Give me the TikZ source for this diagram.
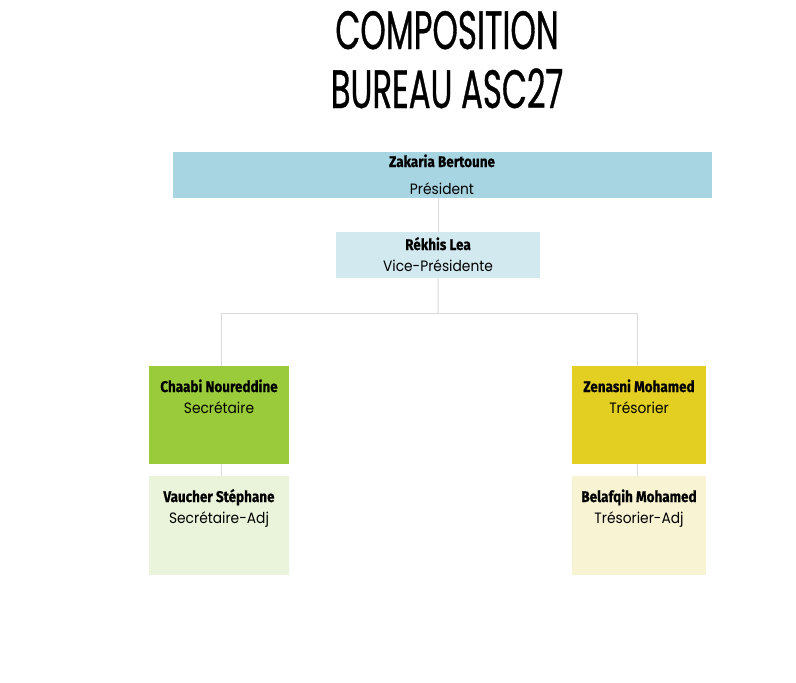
\documentclass[tikz,border=0pt]{standalone}
\usepackage{fontspec}
\setmainfont{Poppins}
\newfontfamily\titlefont[FakeStretch=0.6,FakeBold=0.6]{Poppins}
\newfontfamily\namefont[FakeStretch=0.87,FakeBold=0.6]{Fira Sans}
\newfontfamily\rolefont[FakeStretch=0.92]{Poppins}
\definecolor{presblue}{HTML}{A8D5E2}
\definecolor{vpblue}{HTML}{D2E9F0}
\definecolor{secgreen}{HTML}{9ACB3A}
\definecolor{secgreenlt}{HTML}{EAF4DA}
\definecolor{tresyel}{HTML}{E3CF22}
\definecolor{tresyellt}{HTML}{F8F3D3}
\definecolor{linegray}{HTML}{D9D9D9}
\tikzset{
  box/.style={draw=none, rectangle, inner sep=0pt, anchor=north west},
  conn/.style={draw=linegray, line width=1pt},
  nametext/.style={font=\namefont\bfseries\fontsize{15.5}{17}\selectfont, inner sep=0pt, anchor=base},
  roletext/.style={font=\rolefont\fontsize{15}{17}\selectfont, inner sep=0pt, anchor=base},
  titletext/.style={font=\titlefont\fontsize{54}{60}\selectfont, inner sep=0pt, anchor=base}
}
\begin{document}
\begin{tikzpicture}[x=1pt,y=-1pt]
\useasboundingbox (0,0) rectangle (796,683);
% title
\node[titletext] (t1) at (447,49) {COMPOSITION};
\node[titletext] (t2) at (447,108) {BUREAU ASC27};
% boxes
\node[box, fill=presblue, minimum width=539pt, minimum height=46pt] (pres) at (173,152) {};
\node[box, fill=vpblue, minimum width=204pt, minimum height=46pt] (vp) at (336,232) {};
\node[box, fill=secgreen, minimum width=140pt, minimum height=98pt] (sec) at (149,366) {};
\node[box, fill=tresyel, minimum width=134pt, minimum height=98pt] (tres) at (572,366) {};
\node[box, fill=secgreenlt, minimum width=140pt, minimum height=99pt] (secadj) at (149,476) {};
\node[box, fill=tresyellt, minimum width=134pt, minimum height=99pt] (tresadj) at (572,476) {};
% connectors
\coordinate (junc) at (438,313);
\draw[conn] (vp.north) -- (vp.north |- pres.south);
\draw[conn] (vp.south) -- (junc);
\draw[conn] (junc) -| ([xshift=2pt]sec.north);
\draw[conn] (junc) -| ([xshift=-2pt]tres.north);
\draw[conn] ([xshift=2pt]sec.south) -- ([xshift=2pt]secadj.north);
\draw[conn] ([xshift=-2pt]tres.south) -- ([xshift=-2pt]tresadj.north);
% texts
\node[nametext] (n1) at (442,167) {Zakaria Bertoune};
\node[roletext] (r1) at (442,194) {Président};
\node[nametext] (n2) at (438,250) {Rékhis Lea};
\node[roletext] (r2) at (438,271) {Vice-Présidente};
\node[nametext] (n3) at (219,392) {Chaabi Noureddine};
\node[roletext] (r3) at (219,413) {Secrétaire};
\node[nametext] (n4) at (639,392) {Zenasni Mohamed};
\node[roletext] (r4) at (639,413) {Trésorier};
\node[nametext] (n5) at (219,502) {Vaucher Stéphane};
\node[roletext] (r5) at (219,523) {Secrétaire-Adj};
\node[nametext] (n6) at (639,502) {Belafqih Mohamed};
\node[roletext] (r6) at (639,523) {Trésorier-Adj};
\end{tikzpicture}
\end{document}
